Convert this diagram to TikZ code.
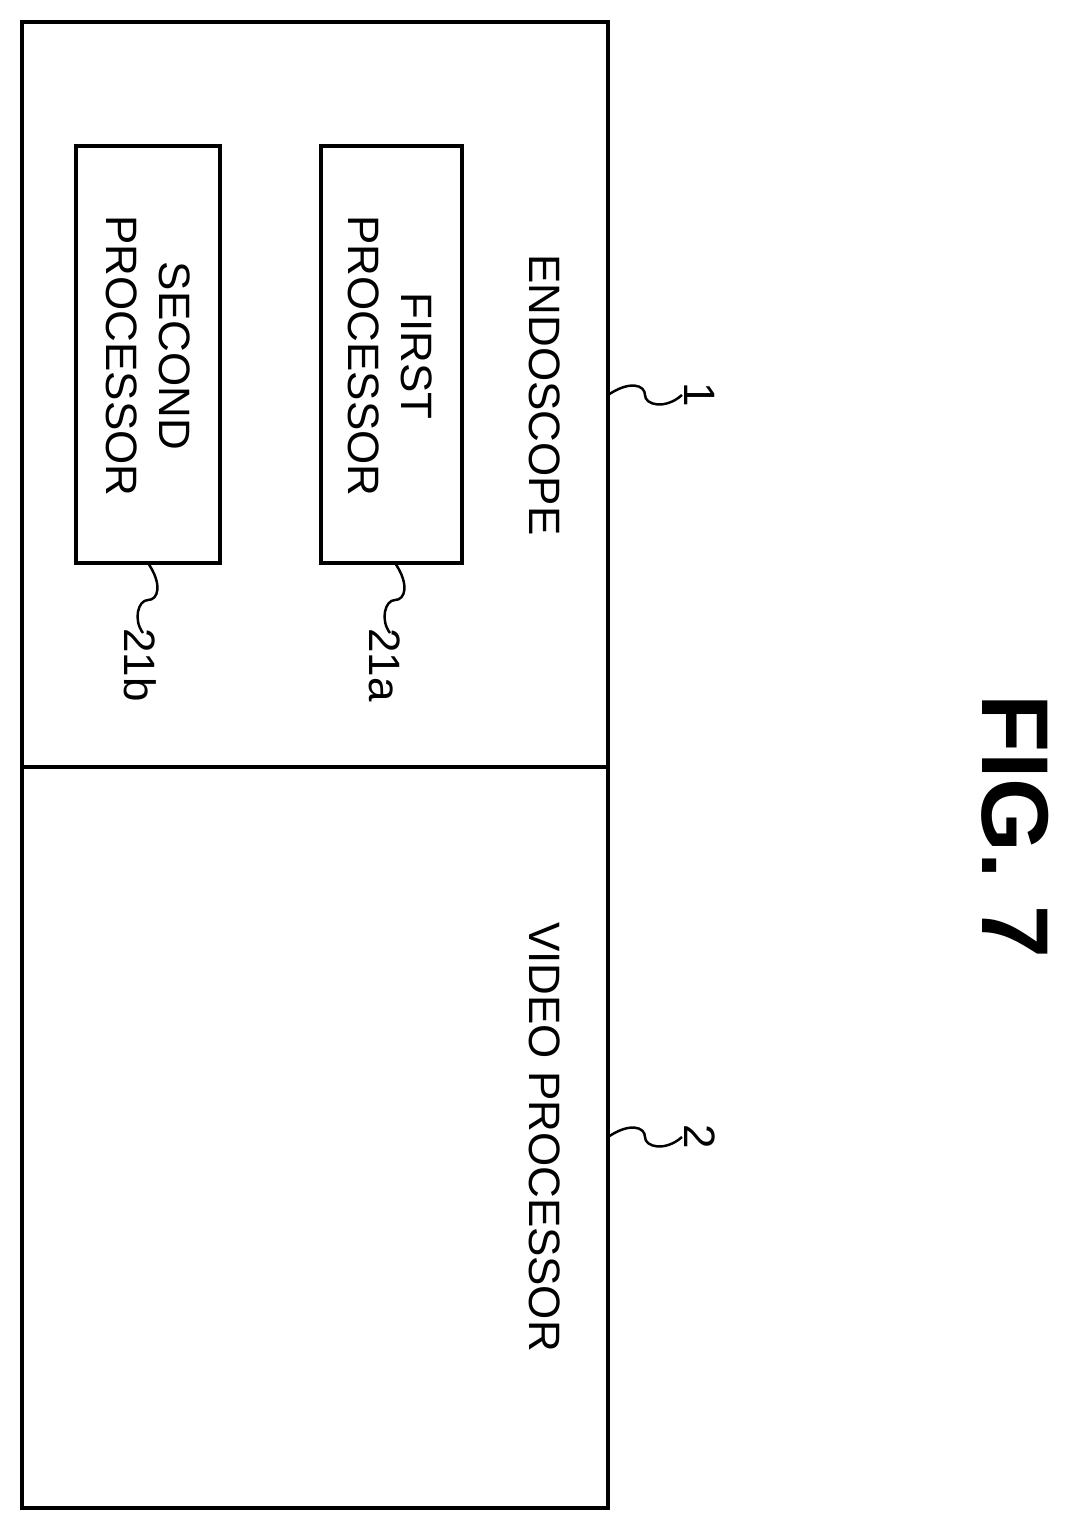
\documentclass[tikz,border=0pt]{standalone}
\usepackage{fontspec}
\setmainfont{Liberation Sans}
\tikzset{
    unit/.style = {draw=black, line width=0.9pt},
    vtext/.style = {rotate=-90, align=center, font=\fontsize{12.5}{15}\selectfont},
    reftext/.style = {rotate=-90, font=\fontsize{12.5}{15}\selectfont},
    lead/.style = {line width=0.7pt}
}
\begin{document}
\begin{tikzpicture}[x=0.01cm, y=-0.01cm]
    \useasboundingbox (0,0) rectangle (1088,1532);
    % outer blocks
    \draw [unit] (22,22) rectangle (608,767);
    \draw [unit] (22,767) rectangle (608,1508);
    \node (endo) [vtext] at (545,395) {ENDOSCOPE};
    \node (video) [vtext] at (545,1137) {VIDEO PROCESSOR};
    % processors
    \draw [unit] (321,146) rectangle (462,563);
    \draw [unit] (76,146) rectangle (220,563);
    \node (first) [vtext] at (390,356) {FIRST\\PROCESSOR};
    \node (second) [vtext] at (148,356) {SECOND\\PROCESSOR};
    % reference numerals
    \coordinate (e1) at (608,395);
    \coordinate (e2) at (608,1137);
    \coordinate (fa) at (395,563);
    \coordinate (sb) at (148,563);
    \node (n1) [reftext] at (700,395) {1};
    \node (n2) [reftext] at (700,1137) {2};
    \node (n21a) [reftext] at (385,665) {21a};
    \node (n21b) [reftext] at (140,665) {21b};
    \draw [lead] (e1) .. controls (630,380) and (645,385) .. (645,395)
                      .. controls (645,405) and (665,410) .. (682,395);
    \draw [lead] (e2) .. controls (630,1122) and (645,1127) .. (645,1137)
                      .. controls (645,1147) and (665,1152) .. (682,1137);
    \draw [lead] (fa) .. controls (410,585) and (405,600) .. (395,600)
                      .. controls (385,600) and (380,620) .. (390,633);
    \draw [lead] (sb) .. controls (163,585) and (158,600) .. (148,600)
                      .. controls (138,600) and (133,620) .. (143,633);
    % figure label
    \node (fig) [rotate=-90, font=\fontsize{27}{32}\selectfont\bfseries] at (1015,826) {FIG. 7};
\end{tikzpicture}
\end{document}
